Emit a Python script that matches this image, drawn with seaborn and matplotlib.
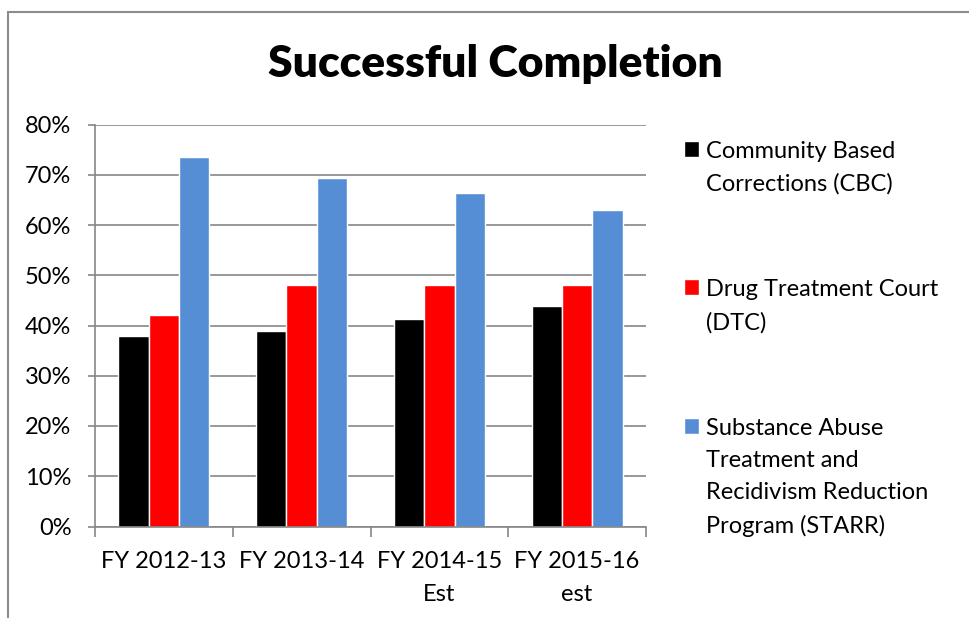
import pandas as pd
import seaborn as sns
import matplotlib.pyplot as plt
from matplotlib.patches import Rectangle
from matplotlib.ticker import FixedLocator, FuncFormatter

# values (percent)
years = ["FY 2012-13", "FY 2013-14", "FY 2014-15\nEst", "FY 2015-16\nest"]
programs = ["Community Based\nCorrections (CBC)",
            "Drug Treatment Court\n(DTC)",
            "Substance Abuse\nTreatment and\nRecidivism Reduction\nProgram (STARR)"]
cbc = [38.0, 39.0, 41.3, 43.9]
dtc = [42.0, 48.0, 48.0, 48.0]
starr = [73.6, 69.3, 66.3, 63.0]
colors = ["#000000", "#FF0000", "#558ED5"]

rows = []
for prog, vals in zip(programs, [cbc, dtc, starr]):
    for yr, v in zip(years, vals):
        rows.append({"year": yr, "program": prog, "pct": v})
df = pd.DataFrame(rows)

sns.set_style("white")
plt.rcParams["font.family"] = ["Lato", "DejaVu Sans"]
plt.rcParams["text.color"] = "black"
FS = 17
LS = 1.65

fig = plt.figure(figsize=(9.69, 6.18), dpi=100)
ax = fig.add_axes([95 / 969, 1 - 526.5 / 618, 551 / 969, 402 / 618])

sns.barplot(data=df, x="year", y="pct", hue="program", order=years,
            hue_order=programs, palette=colors, saturation=1, width=0.66,
            gap=0, errorbar=None, ax=ax)

grid_c = "#868686"
ax.set_ylim(0, 80)
ax.set_xlim(-0.5, len(years) - 0.5)
ax.yaxis.set_major_locator(FixedLocator(range(0, 81, 10)))
ax.yaxis.set_major_formatter(FuncFormatter(lambda v, p: f"{v:.0f}%"))
ax.grid(axis="y", color=grid_c, lw=1.2)
ax.set_axisbelow(True)
for side in ["top", "right"]:
    ax.spines[side].set_visible(False)
for side in ["left", "bottom"]:
    ax.spines[side].set_color(grid_c)
    ax.spines[side].set_linewidth(1.2)

ax.tick_params(axis="y", length=5, width=1.2, color=grid_c, pad=12,
               labelsize=FS, labelcolor="black", left=True)
ax.tick_params(axis="x", which="major", length=0, pad=18, labelsize=FS,
               labelcolor="black")
ax.xaxis.set_minor_locator(FixedLocator([i - 0.5 for i in range(len(years) + 1)]))
ax.tick_params(axis="x", which="minor", length=7, width=1.2, color=grid_c,
               bottom=True)
for lab in ax.get_xticklabels():
    lab.set_linespacing(LS)
ax.set_xlabel("")
ax.set_ylabel("")

handles, labels = ax.get_legend_handles_labels()
ax.get_legend().remove()
leg = fig.legend(handles, labels, loc="upper left",
                 bbox_to_anchor=(684 / 969, 1 - 141 / 618),
                 frameon=False, fontsize=FS, handlelength=0.65,
                 handleheight=0.65, handletextpad=0.3, labelspacing=3.58,
                 borderpad=0, borderaxespad=0)
for t in leg.get_texts():
    t.set_linespacing(LS)
# Excel puts the legend square next to the first line of each label
for col in leg._legend_handle_box.get_children():
    for item in col.get_children():
        item.align = "top"

fig.text(495 / 969, 1 - 64 / 618, "Successful Completion", ha="center",
         va="center", fontsize=32, fontweight="heavy", color="black")

fig.patches.append(Rectangle((8 / 969, -0.2), 1.2, 1.2 - 12 / 618,
                             transform=fig.transFigure, fill=False,
                             edgecolor="#8c8c8c", lw=1.5))

fig.savefig("out.png", dpi=100)
